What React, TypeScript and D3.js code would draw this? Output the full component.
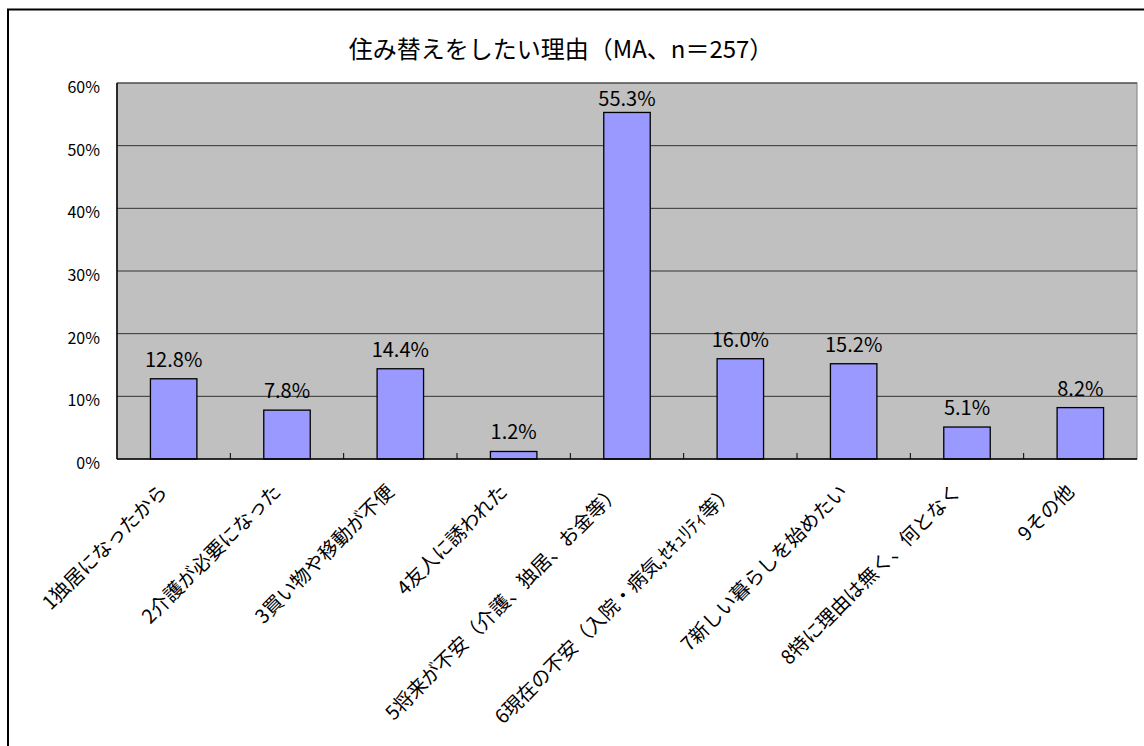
import React from "react";
import * as d3 from "d3";

const categories = [
  "1独居になったから",
  "2介護が必要になった",
  "3買い物や移動が不便",
  "4友人に誘われた",
  "5将来が不安（介護、独居、お金等）",
  "6現在の不安（入院・病気,ｾｷｭﾘﾃｨ等）",
  "7新しい暮らしを始めたい",
  "8特に理由は無く、何となく",
  "9その他",
];
const values = [12.8, 7.8, 14.4, 1.2, 55.3, 16.0, 15.2, 5.1, 8.2];
const yTicks = [0, 10, 20, 30, 40, 50, 60];
const title = "住み替えをしたい理由（MA、n＝257）";

const W = 1144;
const H = 746;
const plot = { left: 117, top: 83, right: 1137, bottom: 459 };
const FONT = '"Noto Sans CJK JP", "Noto Sans", sans-serif';

export default function App() {
  const x = d3
    .scaleBand<string>()
    .domain(categories)
    .range([plot.left, plot.right])
    .paddingInner(0.59)
    .paddingOuter(0.295);
  const y = d3.scaleLinear().domain([0, 60]).range([plot.bottom, plot.top]);
  const step = x.step();
  const boundaries = d3.range(1, categories.length).map((i) => plot.left + i * step);

  return (
    <svg
      width={W}
      height={H}
      style={{ position: "absolute", left: 0, top: 0, background: "#fff" }}
      fontFamily={FONT}
    >
      <rect x={8} y={9.5} width={1200} height={800} fill="#fff" stroke="#000" strokeWidth={2} />
      <text x={561} y={58} textAnchor="middle" fontSize={24} fill="#000">
        {title}
      </text>

      <rect
        x={plot.left}
        y={plot.top}
        width={plot.right - plot.left}
        height={plot.bottom - plot.top}
        fill="#c0c0c0"
        stroke="#808080"
        strokeWidth={1}
      />
      {yTicks.slice(1).map((t) => (
        <line key={t} x1={plot.left} x2={plot.right} y1={y(t)} y2={y(t)} stroke="#333" strokeWidth={1} />
      ))}
      {yTicks.map((t) => (
        <text key={t} x={100} y={y(t) + 10} textAnchor="end" fontSize={16} fill="#000">
          {t}%
        </text>
      ))}

      {categories.map((c, i) => (
        <rect
          key={c}
          x={x(c)!}
          y={y(values[i])}
          width={x.bandwidth()}
          height={y(0) - y(values[i])}
          fill="#9999ff"
          stroke="#000"
          strokeWidth={1.3}
        />
      ))}

      <line x1={plot.left} x2={plot.left} y1={plot.top} y2={plot.bottom} stroke="#000" strokeWidth={1.5} />
      <line x1={plot.left} x2={plot.right} y1={plot.bottom} y2={plot.bottom} stroke="#000" strokeWidth={1.5} />
      {boundaries.map((b, i) => (
        <line key={i} x1={b} x2={b} y1={plot.bottom} y2={plot.bottom - 6} stroke="#000" strokeWidth={1} />
      ))}

      {categories.map((c, i) => (
        <text
          key={c}
          x={x(c)! + x.bandwidth() / 2}
          y={Math.max(y(values[i]) - 12, plot.top + 23)}
          textAnchor="middle"
          fontSize={20}
          fill="#000"
        >
          {values[i].toFixed(1)}%
        </text>
      ))}

      {categories.map((c) => {
        const cx = x(c)! + x.bandwidth() / 2 - 5;
        const cy = plot.bottom + 34;
        return (
          <text
            key={c}
            transform={`translate(${cx},${cy}) rotate(-45)`}
            textAnchor="end"
            fontSize={19.5}
            fill="#000"
          >
            {c}
          </text>
        );
      })}
    </svg>
  );
}
